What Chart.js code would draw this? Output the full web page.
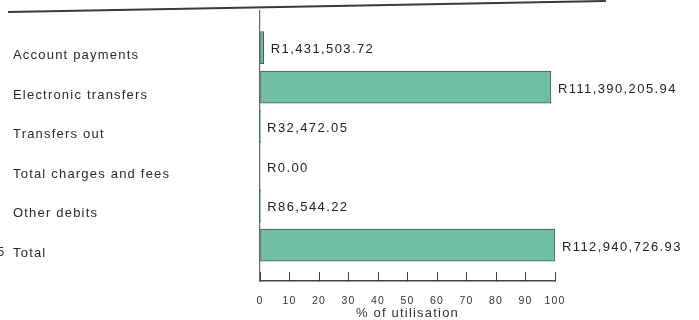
<!DOCTYPE html>
<html>
<head>
<meta charset="utf-8">
<script src="https://cdn.jsdelivr.net/npm/chart.js@4.4.1/dist/chart.umd.min.js"></script>
<style>
  html, body { margin: 0; padding: 0; background: #fff; }
  #wrap { position: relative; width: 699px; height: 320px; overflow: hidden; }
  #rule { position: absolute; left: 8px; top: 11px; width: 598px; height: 0;
          border-top: 2px solid #3a3a3a; transform: rotate(-1.05deg); transform-origin: 0 50%; }
  #cut { position: absolute; left: -3px; top: 244px; font: 13px "Liberation Sans", Arial, sans-serif;
         color: #333; letter-spacing: 1.2px; }
  canvas { position: absolute; left: 0; top: 0; }
</style>
</head>
<body>
<div id="wrap">
  <canvas id="chart" width="699" height="320"></canvas>
  <div id="rule"></div>
  <span id="cut">5</span>
</div>
<script>
// data
const categories = ['Account payments', 'Electronic transfers', 'Transfers out', 'Total charges and fees', 'Other debits', 'Total'];
const utilisation = [1.27, 98.63, 0.03, 0, 0.08, 100];
const amountLabels = ['R1,431,503.72', 'R111,390,205.94', 'R32,472.05', 'R0.00', 'R86,544.22', 'R112,940,726.93'];
const xTicks = [0, 10, 20, 30, 40, 50, 60, 70, 80, 90, 100];

const FONT = '"Liberation Sans", Arial, sans-serif';
Chart.defaults.font.family = FONT;
Chart.defaults.color = '#333';

// the scan prints text wide, so open the letters up a little
const spacing = {
  id: 'spacing',
  beforeUpdate(chart) { chart.ctx.letterSpacing = '1.2px'; },
  beforeDraw(chart) { chart.ctx.letterSpacing = '1.2px'; }
};

// amount text to the right of each bar end
const amounts = {
  id: 'amounts',
  afterDatasetsDraw(chart) {
    const ctx = chart.ctx;
    const meta = chart.getDatasetMeta(0);
    ctx.save();
    ctx.font = '13px ' + FONT;
    ctx.letterSpacing = '1.4px';
    ctx.fillStyle = '#222';
    ctx.textAlign = 'left';
    ctx.textBaseline = 'middle';
    meta.data.forEach((bar, i) => ctx.fillText(amountLabels[i], bar.x + 7, bar.y + 2));
    ctx.restore();
  }
};

new Chart(document.getElementById('chart'), {
  type: 'bar',
  data: {
    labels: categories,
    datasets: [{
      data: utilisation.map((v, i) => ({ x: v, y: i })),
      backgroundColor: '#70bfa4',
      borderColor: '#3f5a52',
      borderWidth: 1,
      borderSkipped: false,
      barThickness: 32
    }]
  },
  options: {
    indexAxis: 'y',
    responsive: false,
    animation: false,
    events: [],
    layout: { padding: { left: 13, top: 10, right: 144, bottom: 0 } },
    plugins: { legend: { display: false }, tooltip: { enabled: false } },
    scales: {
      x: {
        type: 'linear',
        position: 'bottom',
        min: 0, max: 100,
        offset: false,
        afterBuildTicks: (s) => { s.ticks = xTicks.map(v => ({ value: v })); },
        afterFit: (s) => { s.height = 39; },
        grid: { drawOnChartArea: false, drawTicks: true, tickLength: -9, color: '#444', lineWidth: 1, offset: false },
        border: { display: true, color: '#444', width: 1.5 },
        ticks: { padding: 23, font: { size: 10.5 }, color: '#333', maxRotation: 0 },
        title: { display: true, text: '% of utilisation', font: { size: 13, lineHeight: 1 }, color: '#333', padding: 0 }
      },
      y: {
        type: 'linear',
        reverse: true,
        offset: false,
        min: -0.934, max: 5.909,
        afterBuildTicks: (s) => { s.ticks = categories.map((c, i) => ({ value: i })); },
        afterFit: (s) => { s.width = 247; },
        grid: { drawOnChartArea: false, drawTicks: false, offset: false },
        border: { display: true, color: '#666', width: 1.2 },
        ticks: {
          crossAlign: 'far',
          labelOffset: 8,
          font: { size: 13 },
          color: '#2a2a2a',
          callback: (v) => categories[v]
        }
      }
    }
  },
  plugins: [spacing, amounts]
});
</script>
</body>
</html>
